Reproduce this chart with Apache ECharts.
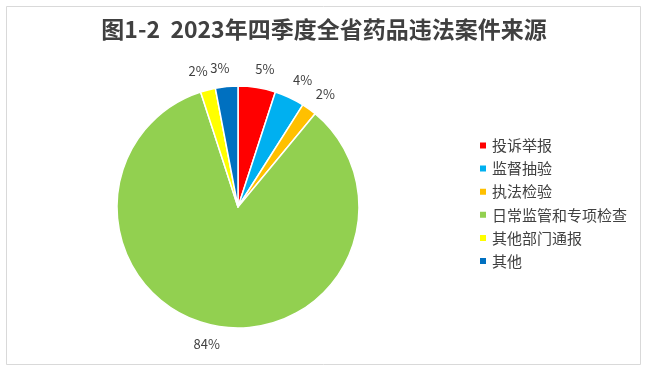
<!DOCTYPE html>
<html><head><meta charset="utf-8">
<script src="https://cdn.jsdelivr.net/npm/echarts@6/dist/echarts.min.js"></script>
<style>html,body{margin:0;padding:0;background:#fff}#c{width:648px;height:374px}</style>
</head><body><div id="c"></div>
<script>
const titleText = '图1-2  2023年四季度全省药品违法案件来源';
const categories = ['投诉举报', '监督抽验', '执法检验', '日常监管和专项检查', '其他部门通报', '其他'];
const values = [5, 4, 2, 84, 2, 3];
const colors = ['#FF0000', '#00B0F0', '#FFC000', '#92D050', '#FFFF00', '#0070C0'];

const chart = echarts.init(document.getElementById('c'));
chart.setOption({
  backgroundColor: '#fff',
  animation: false,
  title: {
    text: titleText, left: 'center', top: 13,
    textStyle: { fontFamily: 'Noto Sans CJK SC', fontWeight: 'bold', fontSize: 23, color: '#404040' }
  },
  graphic: [{
    type: 'rect', shape: { x: 6.5, y: 6.5, width: 634, height: 358 },
    style: { fill: 'none', stroke: '#D9D9D9', lineWidth: 1 }, silent: true
  }],
  legend: {
    orient: 'vertical', left: 473, top: 133,
    icon: 'rect', itemWidth: 8, itemHeight: 8, itemGap: 8.1,
    textStyle: { fontFamily: 'Noto Sans CJK SC', fontSize: 15, color: '#404040', lineHeight: 15 },
    data: categories
  },
  series: [{
    type: 'pie',
    center: [238, 207], radius: 121,
    startAngle: 90, clockwise: true,
    avoidLabelOverlap: false,
    itemStyle: { borderColor: '#fff', borderWidth: 1.5 },
    label: {
      show: true, position: 'outside', formatter: '{c}%', distance: 0,
      fontFamily: 'Noto Sans CJK SC', fontSize: 13, color: '#404040'
    },
    labelLayout: { align: 'center' },
    labelLine: { show: false, length: 19, length2: 0 },
    data: categories.map((n, i) => ({ name: n, value: values[i], itemStyle: { color: colors[i] } }))
  }]
});
</script></body></html>
